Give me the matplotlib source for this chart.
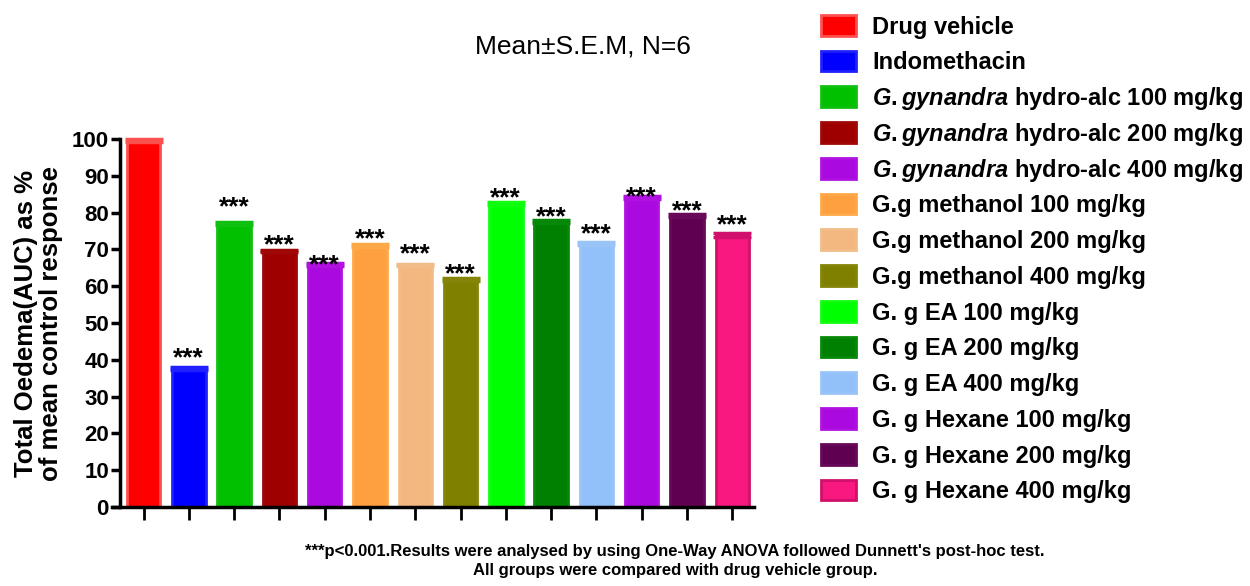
import numpy as np
import matplotlib
matplotlib.use("Agg")
import matplotlib.pyplot as plt
from matplotlib.patches import Rectangle

plt.rcParams['font.family'] = ['Liberation Sans', 'DejaVu Sans']
plt.rcParams['mathtext.fontset'] = 'custom'
plt.rcParams['mathtext.it'] = 'Liberation Sans:italic:bold'
plt.rcParams['mathtext.rm'] = 'Liberation Sans:bold'

# 各组数据
groups = ['Drug vehicle', 'Indomethacin',
          r'$\mathit{G{.}gynandra}$ hydro-alc 100 mg/kg',
          r'$\mathit{G{.}gynandra}$ hydro-alc 200 mg/kg',
          r'$\mathit{G{.}gynandra}$ hydro-alc 400 mg/kg',
          'G.g methanol 100 mg/kg', 'G.g methanol 200 mg/kg', 'G.g methanol 400 mg/kg',
          'G. g EA 100 mg/kg', 'G. g EA 200 mg/kg', 'G. g EA 400 mg/kg',
          'G. g Hexane 100 mg/kg', 'G. g Hexane 200 mg/kg', 'G. g Hexane 400 mg/kg']
mean = [99.6, 37.7, 77.0, 69.6, 66.0, 71.1, 65.8, 61.7, 82.6, 77.6, 71.6, 84.1, 79.2, 73.9]
sem = [0.4, 0.4, 0.4, 0.3, 0.4, 0.4, 0.3, 0.4, 0.4, 0.4, 0.4, 0.4, 0.3, 0.5]
stars = ['', '***', '***', '***', '***', '***', '***', '***', '***', '***', '***', '***', '***', '***']
star_y = [0, 42.5, 83.7, 73.3, 67.9, 74.8, 70.8, 65.4, 86.2, 80.8, 76.4, 86.4, 82.5, 78.6]

colors = ['#FF0000', '#0000FF', '#00C000', '#9E0000', '#AA0ADF', '#FFA040', '#F2B880',
          '#808000', '#00FF00', '#008000', '#92C0F8', '#AA0ADF', '#600050', '#F81880']
edges = ['#FF5050', '#2020FF', '#10C010', '#A00808', '#B010E0', '#FFA848', '#F2BC88',
         '#848408', '#10FF10', '#088808', '#98C4F8', '#B010E0', '#680858', '#D0106A']

fig = plt.figure(figsize=(12.5, 5.86), dpi=100)
ax = fig.add_axes([0.096, 0.1348, 0.5072, 0.628])

x = np.arange(len(mean))
bars = ax.bar(x, mean, width=0.74, color=colors, edgecolor=edges, linewidth=2, zorder=2)
for i in range(len(mean)):
    ax.errorbar(x[i], mean[i], yerr=sem[i], fmt='none', ecolor=edges[i],
                capsize=14, capthick=2.5, elinewidth=2, zorder=3, clip_on=False)
    if stars[i]:
        ax.annotate(stars[i], (x[i], star_y[i]), xytext=(0, -0.57 * 19),
                    textcoords='offset points', ha='center', va='baseline',
                    fontsize=19, fontweight='bold', annotation_clip=False)

ax.set_xlim(-0.52, 13.48)
ax.set_ylim(0, 100)
ax.set_yticks(np.arange(0, 101, 10))
ax.set_xticks(x)
ax.set_xticklabels([])
for s in ['top', 'right']:
    ax.spines[s].set_visible(False)
for s in ['left', 'bottom']:
    ax.spines[s].set_linewidth(2.5)
ax.spines['bottom'].set_bounds(-0.7, 13.48)
ax.tick_params(axis='y', length=6.5, width=2.5, labelsize=16, pad=1.5)
ax.tick_params(axis='x', length=9, width=2, pad=2)
for lab in ax.get_yticklabels():
    lab.set_fontweight('bold')
ax.set_ylabel('Total Oedema(AUC) as %\nof mean control response', fontsize=18.5,
              fontweight='bold', labelpad=6, linespacing=1.1)

fig.text(0.466, 0.92, 'Mean\u00b1S.E.M, N=6', ha='center', va='center', fontsize=19)

# 图例：逐行绘制，保证行距一致
lax = fig.add_axes([0.656, 0.1335, 0.344, 0.854])
lax.set_xlim(0, 1)
lax.set_ylim(len(groups) - 0.5, -0.5)
lax.axis('off')
for i, lab in enumerate(groups):
    lax.add_patch(Rectangle((0.003, i - 0.29), 0.08, 0.58, facecolor=colors[i],
                            edgecolor=edges[i], linewidth=2))
    lax.text(0.121, i + 0.235, lab, ha='left', va='baseline', fontsize=17, fontweight='bold')

foot = ("***p<0.001.Results were analysed by using One-Way ANOVA followed Dunnett's post-hoc test.\n"
        "All groups were compared with drug vehicle group.")
fig.text(0.54, 0.072, foot, ha='center', va='top', fontsize=12, fontweight='bold',
         family=['Liberation Sans Narrow', 'Liberation Sans'], linespacing=1.35)

fig.savefig('out.png', dpi=100)
